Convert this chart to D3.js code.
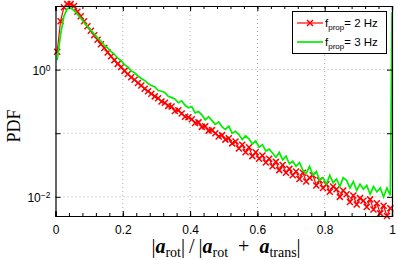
<!DOCTYPE html>
<html><head><meta charset="utf-8">
<script src="https://cdn.jsdelivr.net/npm/d3@7"></script>
<style>body{margin:0;background:#fff}svg{display:block}</style>
</head><body>
<script>
// ---- data ----
const binCenters = d3.range(100).map(i => +(0.005 + 0.01 * i).toFixed(3));
const pdf2Hz = [1.91,5.75,9.55,10.7,10.7,10.0,8.13,6.92,5.75,4.79,
4.07,3.47,2.95,2.51,2.19,1.86,1.62,1.41,1.23,1.10,
0.955,0.851,0.759,0.692,0.617,0.562,0.501,0.457,0.417,0.380,
0.355,0.316,0.302,0.269,0.263,0.224,0.229,0.204,0.182,0.178,
0.166,0.145,0.148,0.126,0.129,0.110,0.112,0.100,0.0891,0.0933,
0.0794,0.0832,0.0692,0.0741,0.0575,0.0661,0.0501,0.0603,0.0437,0.0501,
0.0398,0.0447,0.0347,0.0398,0.0302,0.0355,0.0263,0.0316,0.0240,0.0275,
0.0219,0.0251,0.0191,0.0240,0.0174,0.0200,0.0219,0.0151,0.0182,0.0138,
0.0158,0.0120,0.0145,0.0132,0.0100,0.0126,0.0110,0.00832,0.0105,0.00759,
0.00955,0.00871,0.00692,0.00912,0.00631,0.00794,0.00550,0.00724,0.00501,0.00661];
const pdf3Hz = [1.41,3.55,6.92,9.12,9.33,8.51,7.41,6.46,5.50,4.79,
4.17,3.63,3.16,2.82,2.40,2.19,1.91,1.74,1.51,1.38,
1.20,1.10,0.955,0.891,0.794,0.724,0.676,0.603,0.562,0.537,
0.468,0.457,0.437,0.380,0.363,0.347,0.302,0.324,0.275,0.251,
0.263,0.209,0.219,0.195,0.162,0.182,0.158,0.138,0.151,0.126,
0.115,0.129,0.100,0.107,0.0955,0.0794,0.0912,0.0813,0.0676,0.0759,
0.0603,0.0661,0.0525,0.0562,0.0490,0.0417,0.0501,0.0380,0.0437,0.0331,
0.0363,0.0302,0.0347,0.0263,0.0234,0.0302,0.0219,0.0251,0.0182,0.0200,
0.0158,0.0219,0.0166,0.0191,0.0145,0.0200,0.0182,0.0138,0.0174,0.0126,
0.0158,0.0132,0.0151,0.0110,0.0145,0.0120,0.0138,0.0100,0.0138,0.0105];
const edgeX = [1.0];
const edge3Hz = [8.0];
const xTicks = [0, 0.2, 0.4, 0.6, 0.8, 1];
const xTickLabels = ["0", "0.2", "0.4", "0.6", "0.8", "1"];
const xMinorTicks = d3.range(26).map(i => +(i * 0.04).toFixed(2));
const yTicks = [0.01, 0.1, 1, 10];
const yTickLabels = {"0.01": "\u22122", "1": "0"};
const legendLabels = [{base: "f", sub: "prop", rest: "= 2 Hz"}, {base: "f", sub: "prop", rest: "= 3 Hz"}];

// ---- chart ----
const W = 398, H = 260;
const svg = d3.select("body").append("svg").attr("width", W).attr("height", H);
const x = d3.scaleLinear().domain([0, 1]).range([55.5, 392]);
const y = d3.scaleLog().domain([0.005, 10]).range([216, 6]);
const fontSans = "'Liberation Sans', Arial, Helvetica, sans-serif";
const fontSerif = "'Liberation Serif', 'DejaVu Serif', serif";

// grid
const grid = svg.append("g").attr("stroke", "#aaa").attr("stroke-width", 1).attr("stroke-dasharray", "1,3");
grid.selectAll("line.v").data(xTicks.slice(1, -1)).join("line")
  .attr("x1", d => x(d)).attr("x2", d => x(d)).attr("y1", y.range()[0]).attr("y2", y.range()[1]);
grid.selectAll("line.h").data([0.01, 0.1, 1]).join("line")
  .attr("x1", x.range()[0]).attr("x2", x.range()[1]).attr("y1", d => y(d)).attr("y2", d => y(d));

// data: 2 Hz (red, x markers)
const red = binCenters.map((c, i) => [c, pdf2Hz[i]]);
const green = binCenters.map((c, i) => [c, pdf3Hz[i]]).concat(edgeX.map((c, i) => [c, edge3Hz[i]]));
const line = d3.line().x(d => x(d[0])).y(d => y(d[1]));
svg.append("path").datum(red).attr("d", line).attr("fill", "none").attr("stroke", "#ff0000").attr("stroke-width", 1.2);
const ms = 3;
svg.append("g").selectAll("path").data(red).join("path")
  .attr("d", d => { const px = x(d[0]), py = y(d[1]);
    return `M${px-ms},${py-ms}L${px+ms},${py+ms}M${px-ms},${py+ms}L${px+ms},${py-ms}`; })
  .attr("stroke", "#ff0000").attr("stroke-width", 1.5).attr("fill", "none");
// 3 Hz (green line)
svg.append("path").datum(green).attr("d", line).attr("fill", "none").attr("stroke", "#00ee00").attr("stroke-width", 1.7);

// axes
const ax = svg.append("g").attr("font-family", fontSans).attr("font-size", 12);
const xb = ax.append("g").attr("transform", `translate(0,${y.range()[0]})`)
  .call(d3.axisBottom(x).tickValues(xTicks).tickSize(-5).tickPadding(9).tickFormat((d, i) => xTickLabels[i]));
xb.selectAll("text").attr("fill", "#000").attr("font-family", fontSans).attr("font-size", 12);
ax.append("g").attr("transform", `translate(0,${y.range()[0]})`)
  .call(d3.axisBottom(x).tickValues(xMinorTicks).tickSize(-3).tickFormat(""));
ax.append("g").attr("transform", `translate(0,${y.range()[1]})`)
  .call(d3.axisTop(x).tickValues(xTicks).tickSize(-5).tickFormat(""));
ax.append("g").attr("transform", `translate(0,${y.range()[1]})`)
  .call(d3.axisTop(x).tickValues(xMinorTicks).tickSize(-3).tickFormat(""));
const yl = ax.append("g").attr("transform", `translate(${x.range()[0]},0)`)
  .call(d3.axisLeft(y).tickValues(yTicks).tickSize(-5).tickFormat(""));
ax.append("g").attr("transform", `translate(${x.range()[1]},0)`)
  .call(d3.axisRight(y).tickValues(yTicks).tickSize(-5).tickFormat(""));
ax.selectAll(".domain").attr("stroke", "#000").attr("stroke-width", 1.2);
ax.selectAll(".tick line").attr("stroke", "#000");
yl.selectAll(".tick").filter(d => yTickLabels[String(d)] !== undefined).append("text")
  .attr("x", -5).attr("dy", "0.4em").attr("text-anchor", "end").attr("fill", "#000")
  .attr("font-family", fontSans).attr("font-size", 12)
  .each(function(d) {
    const t = d3.select(this);
    t.append("tspan").text("10");
    t.append("tspan").attr("dy", "-0.5em").attr("font-size", 8.5).text(yTickLabels[String(d)]);
  });

// axis titles
svg.append("text").attr("transform", "translate(20,126) rotate(-90)").attr("text-anchor", "middle")
  .attr("font-family", fontSerif).attr("font-size", 18).text("PDF");
const xt = svg.append("text").attr("x", 226).attr("y", 253).attr("text-anchor", "middle")
  .attr("font-family", fontSerif).attr("font-size", 20);
const parts = [["|", ""], ["a", "b"], ["rot", "s"], ["|\u2009/\u2009|", ""], ["a", "b"], ["rot", "s"], ["\u2002+\u2002", ""], ["a", "b"], ["trans", "s"], ["|", ""]];
let shifted = false;
parts.forEach(p => {
  const ts = xt.append("tspan").text(p[0]);
  if (p[1] === "b") ts.attr("font-weight", "bold").attr("font-style", "italic");
  if (p[1] === "s") { ts.attr("font-size", 14).attr("dy", 3.5); shifted = true; }
  else if (shifted) { ts.attr("dy", -3.5); shifted = false; }
});

// legend
const lg = svg.append("g");
lg.append("rect").attr("x", 292.5).attr("y", 11.5).attr("width", 94).attr("height", 42)
  .attr("fill", "#fff").attr("stroke", "#000").attr("stroke-width", 1);
const ly = [23, 42];
const lcol = ["#ff0000", "#00ee00"];
ly.forEach((yy, i) => {
  lg.append("line").attr("x1", 297).attr("x2", 323).attr("y1", yy).attr("y2", yy)
    .attr("stroke", lcol[i]).attr("stroke-width", i ? 1.7 : 1.2);
  if (i === 0) {
    lg.append("path").attr("d", `M${310-ms},${yy-ms}L${310+ms},${yy+ms}M${310-ms},${yy+ms}L${310+ms},${yy-ms}`)
      .attr("stroke", lcol[0]).attr("stroke-width", 1.5);
  }
  const t = lg.append("text").attr("x", 325).attr("y", yy + 4).attr("font-family", fontSans).attr("font-size", 11.5);
  t.append("tspan").text(legendLabels[i].base);
  t.append("tspan").attr("font-size", 8).attr("dy", 2.5).text(legendLabels[i].sub);
  t.append("tspan").attr("dy", -2.5).text(legendLabels[i].rest);
});
</script>
</body></html>
